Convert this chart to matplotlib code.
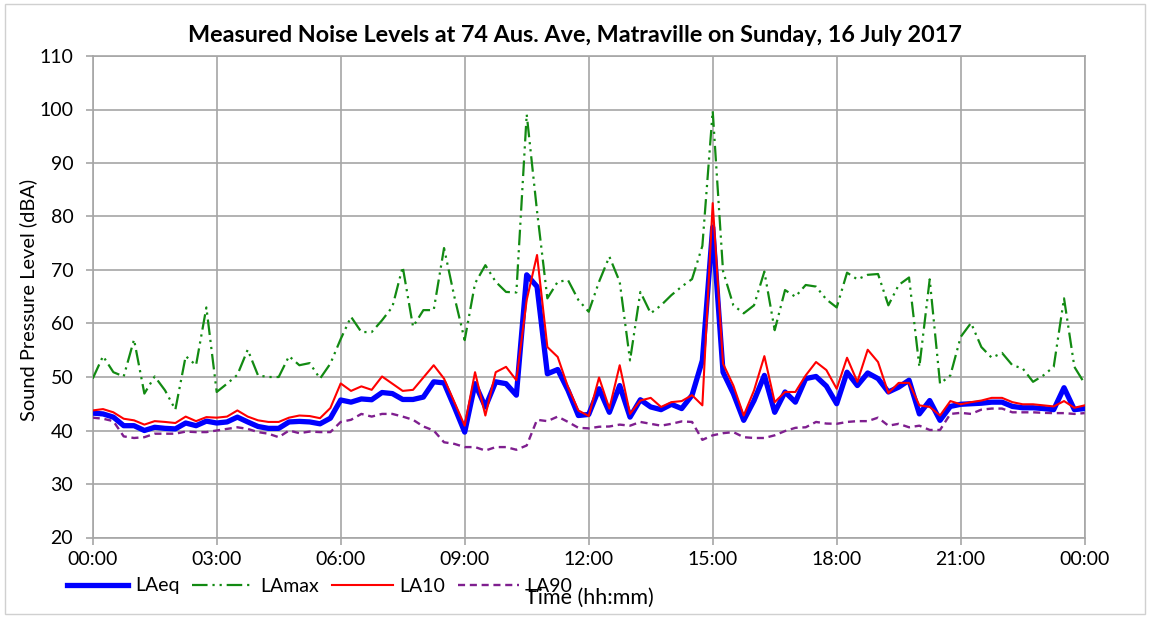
import matplotlib
matplotlib.use("Agg")
import matplotlib.pyplot as plt
from matplotlib.patches import Rectangle
import numpy as np

plt.rcParams['font.family'] = ['Lato', 'DejaVu Sans']

# ---- data (15-minute intervals, 00:00 .. 24:00) ----
hours = [i * 0.25 for i in range(97)]

laeq = [43.25, 43.1, 42.5, 40.9, 40.9, 40.0, 40.6, 40.4, 40.3, 41.4, 40.9, 41.75,
        41.4, 41.6, 42.5, 41.6, 40.75, 40.4, 40.4, 41.6, 41.7, 41.6, 41.25, 42.3,
        45.7, 45.3, 45.9, 45.75, 47.1, 46.9, 45.8, 45.8, 46.25, 49.1, 48.9, 44.4,
        39.7, 48.75, 44.4, 49.1, 48.75, 46.6, 69.1, 66.9, 50.6, 51.4, 47.5, 42.8,
        43.0, 47.8, 43.4, 48.4, 42.5, 45.75, 44.4, 43.9, 44.9, 44.1, 46.6, 53.1,
        78.0, 50.9, 46.9, 41.9, 45.6, 50.3, 43.4, 47.2, 45.3, 49.7, 50.1, 48.3,
        45.0, 50.9, 48.4, 50.75, 49.7, 47.2, 48.1, 49.4, 43.1, 45.6, 41.9, 44.5,
        44.9, 45.0, 45.1, 45.3, 45.3, 44.5, 44.25, 44.25, 44.1, 43.9, 48.0, 43.9,
        44.1]

lamax = [49.7, 53.9, 50.9, 50.1, 57.0, 46.9, 50.1, 47.5, 43.9, 53.9, 52.2, 63.0,
         47.2, 48.75, 50.4, 55.1, 50.3, 50.0, 50.0, 53.9, 52.2, 52.6, 49.7, 52.5,
         57.1, 61.25, 58.4, 58.4, 60.6, 63.1, 70.6, 59.4, 62.5, 62.5, 74.1, 65.0,
         56.9, 67.5, 70.9, 67.8, 65.9, 65.8, 99.1, 81.0, 64.7, 67.8, 68.1, 64.4,
         62.2, 67.8, 72.5, 67.8, 53.1, 65.9, 61.9, 63.4, 65.3, 66.9, 68.3, 74.5,
         99.7, 69.8, 63.4, 61.9, 63.4, 69.7, 58.75, 66.25, 65.0, 67.2, 66.9, 64.5,
         63.0, 69.5, 68.25, 69.1, 69.25, 63.4, 67.2, 68.6, 51.9, 68.25, 48.75, 50.3,
         57.5, 60.1, 55.6, 53.6, 54.5, 52.2, 51.6, 49.1, 50.3, 51.9, 64.7, 51.9,
         48.75]

la10 = [43.75, 44.0, 43.4, 42.2, 41.9, 41.1, 41.75, 41.6, 41.4, 42.6, 41.75, 42.5,
        42.4, 42.6, 43.75, 42.6, 41.9, 41.6, 41.6, 42.4, 42.8, 42.7, 42.3, 44.2,
        48.8, 47.4, 48.25, 47.6, 50.1, 48.75, 47.4, 47.6, 49.9, 52.2, 49.7, 45.3,
        40.9, 50.9, 42.8, 50.9, 51.9, 49.4, 64.4, 72.8, 55.6, 53.75, 48.1, 43.75,
        42.7, 49.9, 44.1, 52.2, 43.1, 45.6, 46.1, 44.4, 45.3, 45.5, 46.6, 44.7,
        82.5, 52.5, 48.4, 42.8, 47.5, 53.9, 45.3, 47.2, 47.2, 50.3, 52.8, 51.3,
        47.8, 53.6, 49.1, 55.1, 52.8, 47.0, 48.9, 48.9, 44.7, 44.4, 42.8, 45.5,
        44.9, 45.3, 45.6, 46.1, 46.1, 45.3, 44.9, 44.9, 44.7, 44.5, 45.5, 44.25,
        44.7]

la90 = [42.4, 42.2, 41.75, 38.9, 38.6, 38.75, 39.4, 39.4, 39.4, 39.8, 39.7, 39.7,
        40.0, 40.3, 40.6, 40.3, 39.7, 39.4, 38.75, 40.0, 39.5, 39.8, 39.7, 39.7,
        41.6, 42.0, 43.1, 42.6, 43.1, 43.1, 42.6, 42.0, 40.75, 40.0, 37.8, 37.5,
        36.9, 36.9, 36.25, 36.9, 36.9, 36.4, 37.2, 42.0, 41.75, 42.6, 41.6, 40.5,
        40.4, 40.7, 40.75, 41.1, 40.9, 41.6, 41.25, 40.9, 41.25, 41.7, 41.6, 38.25,
        39.1, 39.5, 39.7, 38.75, 38.6, 38.6, 39.1, 39.9, 40.5, 40.6, 41.6, 41.3,
        41.25, 41.6, 41.75, 41.75, 42.4, 40.9, 41.25, 40.6, 40.9, 40.1, 40.1, 43.1,
        43.3, 43.1, 43.9, 44.1, 44.1, 43.4, 43.4, 43.4, 43.3, 43.25, 43.25, 43.1,
        43.25]

tick_hours = [0, 3, 6, 9, 12, 15, 18, 21, 24]
tick_labels = ["00:00", "03:00", "06:00", "09:00", "12:00", "15:00", "18:00", "21:00", "00:00"]
y_ticks = list(range(20, 111, 10))

title = "Measured Noise Levels at 74 Aus. Ave, Matraville on Sunday, 16 July 2017"

# ---- figure ----
W, H = 1149, 617
fig = plt.figure(figsize=(W / 100, H / 100), dpi=100)
ax = fig.add_axes([92.7 / W, 1 - 537.5 / H, 992 / W, 481.5 / H])

grid_c = '#a6a6a6'
l1, = ax.plot(hours, laeq, color='#0000ff', lw=3.8, label='LAeq', zorder=3)
l2, = ax.plot(hours, lamax, color='#128a12', lw=1.6, label='LAmax', zorder=3,
              dashes=(7, 2.2, 1, 2.2, 1, 2.2))
l3, = ax.plot(hours, la10, color='#ff0000', lw=1.5, label='LA10', zorder=4)
l4, = ax.plot(hours, la90, color='#7f1f8f', lw=1.7, label='LA90', zorder=3,
              dashes=(3, 2))

ax.set_xlim(0, 24)
ax.set_ylim(20, 110)
ax.set_xticks(tick_hours)
ax.set_xticklabels(tick_labels)
ax.set_yticks(y_ticks)
ax.grid(True, color=grid_c, lw=1.2)
ax.set_axisbelow(True)
for s in ax.spines.values():
    s.set_color(grid_c)
    s.set_linewidth(1.2)
ax.tick_params(axis='both', colors=grid_c, labelcolor='black', labelsize=14,
               length=5, width=1.2, direction='out')
ax.tick_params(axis='x', pad=5)
ax.tick_params(axis='y', pad=9)

fig.text(575 / W, 1 - 35 / H, title, ha='center', va='center',
         fontsize=16.8, fontweight='bold')
fig.text(28 / W, 1 - 300 / H, "Sound Pressure Level (dBA)", rotation=90,
         ha='center', va='center', fontsize=14.4)
fig.text(589 / W, 1 - 598 / H, "Time (hh:mm)", ha='center', va='center',
         fontsize=15.5)

fig.legend(handles=[l1, l2, l3, l4], loc='center left',
           bbox_to_anchor=(67 / W, 1 - 586 / H), ncol=4, frameon=False,
           fontsize=14, handlelength=3.15, handletextpad=0.35,
           columnspacing=0.65, borderaxespad=0, borderpad=0)

fig.patches.append(Rectangle((5 / W, 3 / H), 1 - 9 / W, 1 - 7 / H,
                             transform=fig.transFigure, fill=False,
                             edgecolor='#d0d0d0', lw=1.0))

fig.savefig("out.png", dpi=100)
